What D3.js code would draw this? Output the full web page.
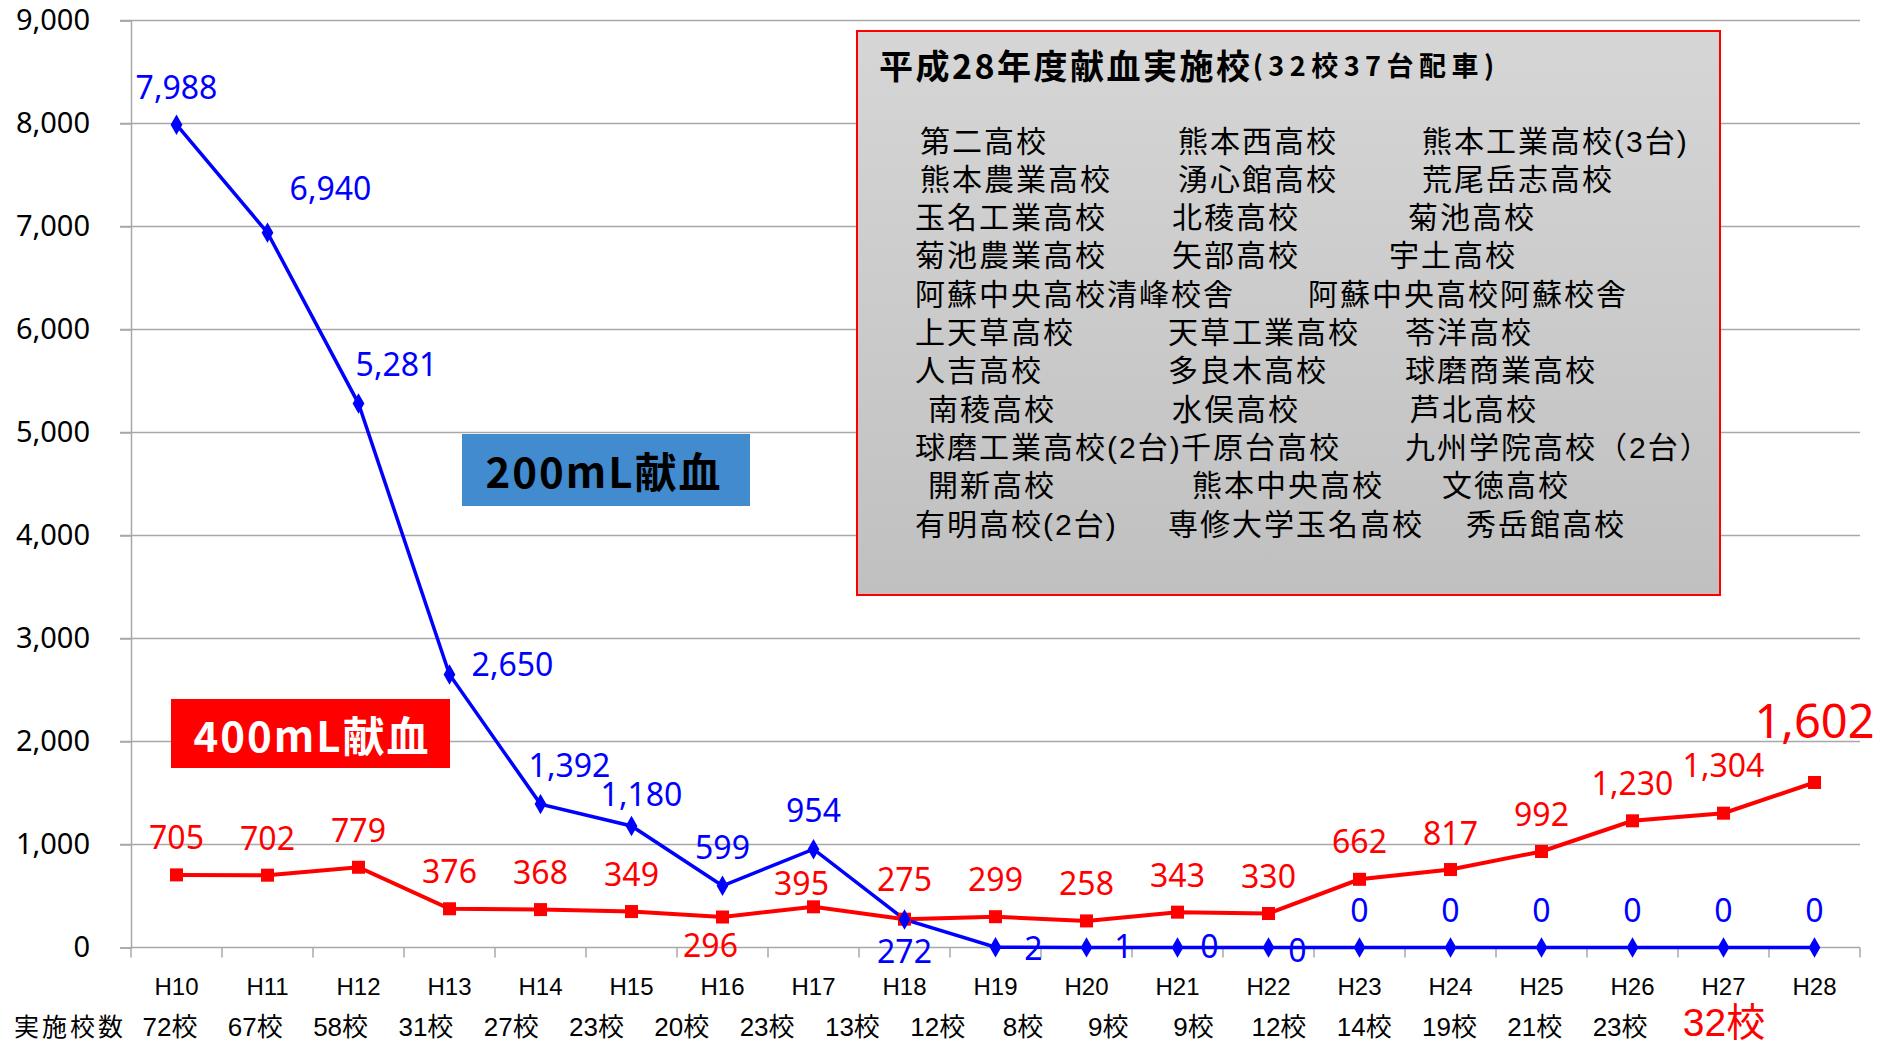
<!DOCTYPE html>
<html><head><meta charset="utf-8">
<script src="https://cdn.jsdelivr.net/npm/d3@7"></script>
<style>
html,body{margin:0;padding:0;background:#fff;}
svg{display:block;}
</style></head>
<body>
<svg id="chart" width="1890" height="1044"></svg>
<script>
// ---------- DATA ----------
const years = ["H10","H11","H12","H13","H14","H15","H16","H17","H18","H19","H20","H21","H22","H23","H24","H25","H26","H27","H28"];
const schoolCounts = ["72校","67校","58校","31校","27校","23校","20校","23校","13校","12校","8校","9校","9校","12校","14校","19校","21校","23校","32校"];
const donation200 = [7988,6940,5281,2650,1392,1180,599,954,272,2,1,0,0,0,0,0,0,0,0];
const donation400 = [705,702,779,376,368,349,296,395,275,299,258,343,330,662,757,932,1230,1304,1602];
const labels200 = ["7,988","6,940","5,281","2,650","1,392","1,180","599","954","272","2","1","0","0","0","0","0","0","0","0"];
const labels400 = ["705","702","779","376","368","349","296","395","275","299","258","343","330","662","817","992","1,230","1,304","1,602"];
const yTicks = [0,1000,2000,3000,4000,5000,6000,7000,8000,9000];
const boxTitle = "平成28年度献血実施校";
const boxTitleSub = "(32校37台配車)";
const schoolRows = [
  ["第二高校","熊本西高校","熊本工業高校(3台)"],
  ["熊本農業高校","湧心館高校","荒尾岳志高校"],
  ["玉名工業高校","北稜高校","菊池高校"],
  ["菊池農業高校","矢部高校","宇土高校"],
  ["阿蘇中央高校清峰校舎","阿蘇中央高校阿蘇校舎"],
  ["上天草高校","天草工業高校","苓洋高校"],
  ["人吉高校","多良木高校","球磨商業高校"],
  ["南稜高校","水俣高校","芦北高校"],
  ["球磨工業高校(2台)","千原台高校","九州学院高校（2台）"],
  ["開新高校","熊本中央高校","文徳高校"],
  ["有明高校(2台)","専修大学玉名高校","秀岳館高校"]
];
const rowLabel = "実施校数";
const series200Name = "200mL献血";
const series400Name = "400mL献血";

// ---------- LAYOUT ----------
const svg = d3.select("#chart");
const pL = 131, pR = 1860, pT = 20.5, pB = 947.5;
const x = d3.scaleBand().domain(years).range([pL, pR]).padding(0);
const y = d3.scaleLinear().domain([0, 9000]).range([pB, pT]);
const cx = d => x(d) + x.bandwidth() / 2;
const gridColor = "#a8a8a8";
const latin = "'Noto Sans', 'DejaVu Sans', sans-serif";
const cjk = "'Noto Sans CJK JP', 'Noto Sans', sans-serif";
const narrow = "'Liberation Sans', Arial, 'Noto Sans CJK JP', sans-serif";

// gridlines
svg.append("g").selectAll("line").data(yTicks.filter(t => t > 0)).join("line")
  .attr("x1", pL - 11).attr("x2", pR)
  .attr("y1", d => y(d)).attr("y2", d => y(d))
  .attr("stroke", gridColor).attr("stroke-width", 1.5);

// y axis
const yAxis = d3.axisLeft(y).tickValues(yTicks).tickSize(11).tickFormat(d3.format(","));
const yg = svg.append("g").attr("transform", `translate(${pL},0)`).call(yAxis);
yg.select(".domain").attr("stroke", gridColor).attr("stroke-width", 1.5);
yg.selectAll(".tick line").attr("stroke", gridColor).attr("stroke-width", 1.5);
yg.selectAll(".tick text").attr("x", -41).attr("font-family", latin).attr("font-size", 29).attr("fill", "#000");

// x axis (baseline + ticks at band boundaries)
svg.append("line").attr("x1", pL).attr("x2", pR).attr("y1", pB).attr("y2", pB)
  .attr("stroke", gridColor).attr("stroke-width", 1.5);
svg.append("g").selectAll("line").data(years.concat(["end"])).join("line")
  .attr("x1", (d, i) => i < years.length ? x(d) : pR)
  .attr("x2", (d, i) => i < years.length ? x(d) : pR)
  .attr("y1", pB).attr("y2", pB + 10)
  .attr("stroke", gridColor).attr("stroke-width", 1.5);
svg.append("g").selectAll("text").data(years).join("text")
  .attr("x", d => cx(d)).attr("y", 986).attr("dominant-baseline", "central")
  .attr("text-anchor", "middle").attr("font-family", narrow).attr("font-size", 24).attr("fill", "#000")
  .text(d => d);

// school count row
svg.append("text").attr("x", 14).attr("y", 1025).attr("dominant-baseline", "central")
  .attr("font-family", cjk).attr("font-size", 25).attr("letter-spacing", 3).attr("fill", "#000").text(rowLabel);
const countX = d3.scaleLinear().domain([0, 17]).range([170, 170 + 17 * 85.3]);
const lastI = schoolCounts.length - 1;
svg.append("g").selectAll("text").data(schoolCounts).join("text")
  .attr("x", (d, i) => i === lastI ? 1724 : countX(i))
  .attr("y", (d, i) => i === lastI ? 1022 : 1027)
  .attr("dominant-baseline", "central").attr("text-anchor", "middle")
  .attr("font-family", narrow)
  .attr("font-size", (d, i) => i === lastI ? 39 : 26)
  .attr("fill", (d, i) => i === lastI ? "#ff0000" : "#000")
  .text(d => d);

// ---------- school list box ----------
const box = svg.append("g");
const grad = svg.append("defs").append("linearGradient").attr("id", "boxg")
  .attr("x1", 0).attr("y1", 0).attr("x2", 0).attr("y2", 1);
grad.append("stop").attr("offset", "0%").attr("stop-color", "#d6d6d6");
grad.append("stop").attr("offset", "100%").attr("stop-color", "#c0c0c0");
box.append("rect").attr("x", 857).attr("y", 31).attr("width", 863).attr("height", 564)
  .attr("fill", "url(#boxg)").attr("stroke", "#ff0000").attr("stroke-width", 2);
const title = box.append("text").attr("x", 879).attr("y", 64).attr("dominant-baseline", "central")
  .attr("font-family", cjk).attr("font-weight", "bold").attr("fill", "#000");
title.append("tspan").attr("font-size", 34).attr("letter-spacing", 2.5).text(boxTitle);
title.append("tspan").attr("font-size", 27).attr("letter-spacing", 5.5).text(boxTitleSub);

const colX = [
  [920,1178,1422],[920,1178,1422],[915,1172,1408],[915,1172,1389],[915,1308],
  [915,1168,1405],[915,1168,1405],[928,1172,1410],[915,1181,1405],[928,1192,1442],[915,1168,1466]
];
const rowY = d3.scaleLinear().domain([0, 10]).range([141, 524]);
schoolRows.forEach((row, r) => {
  box.append("g").selectAll("text").data(row).join("text")
    .attr("x", (d, c) => colX[r][c]).attr("y", rowY(r)).attr("dominant-baseline", "central")
    .attr("font-family", "'Liberation Sans', 'Noto Sans CJK JP', sans-serif")
    .attr("font-size", 30).attr("letter-spacing", 2).attr("fill", "#000").text(d => d);
});

// ---------- series name boxes ----------
svg.append("rect").attr("x", 462).attr("y", 434).attr("width", 288).attr("height", 72).attr("fill", "#428bce");
svg.append("text").attr("x", 604).attr("y", 469).attr("text-anchor", "middle").attr("dominant-baseline", "central")
  .attr("font-family", cjk).attr("font-weight", "bold").attr("font-size", 42).attr("letter-spacing", 2)
  .attr("fill", "#000").text(series200Name);
svg.append("rect").attr("x", 171).attr("y", 699).attr("width", 279).attr("height", 69).attr("fill", "#ff0000");
svg.append("text").attr("x", 312).attr("y", 733).attr("text-anchor", "middle").attr("dominant-baseline", "central")
  .attr("font-family", cjk).attr("font-weight", "bold").attr("font-size", 42).attr("letter-spacing", 2)
  .attr("fill", "#fff").text(series400Name);

// ---------- lines ----------
const line = vals => d3.line().x((d, i) => cx(years[i])).y(d => y(d))(vals);
svg.append("path").attr("d", line(donation400)).attr("fill", "none").attr("stroke", "#ff0000").attr("stroke-width", 4);
svg.append("path").attr("d", line(donation200)).attr("fill", "none").attr("stroke", "#0000ff").attr("stroke-width", 3.5);

svg.append("g").selectAll("rect").data(donation400).join("rect")
  .attr("x", (d, i) => cx(years[i]) - 6.5).attr("y", d => y(d) - 6.5).attr("width", 13).attr("height", 13)
  .attr("fill", "#ff0000");
svg.append("g").selectAll("path").data(donation200).join("path")
  .attr("d", () => d3.symbol().type(d3.symbolDiamond).size(120)())
  .attr("transform", (d, i) => `translate(${cx(years[i])},${y(d)})`)
  .attr("fill", "#0000ff");

// ---------- data labels ----------
const off200 = [[0,-38],[63,-45],[38,-40],[63,-11],[29,-40],[10,-32],[0,-39],[0,-40],[0,31],[38,0],[37,-2],[32,-2],[29,2],
  [0,-38],[0,-38],[0,-38],[0,-38],[0,-38],[0,-38]];
const off400 = [[0,-38],[0,-38],[0,-38],[0,-38],[0,-38],[0,-38],[-12,27],[-12,-24],[0,-41],[0,-38],[0,-38],[0,-38],[0,-38],
  [0,-39],[0,-37],[0,-38],[0,-38],[0,-49],[0,-62]];
svg.append("g").selectAll("text").data(labels200).join("text")
  .attr("x", (d, i) => cx(years[i]) + off200[i][0]).attr("y", (d, i) => y(donation200[i]) + off200[i][1])
  .attr("text-anchor", "middle").attr("dominant-baseline", "central")
  .attr("font-family", latin).attr("font-size", 32).attr("fill", "#0000ff").text(d => d);
svg.append("g").selectAll("text").data(labels400).join("text")
  .attr("x", (d, i) => cx(years[i]) + off400[i][0]).attr("y", (d, i) => y(donation400[i]) + off400[i][1])
  .attr("text-anchor", "middle").attr("dominant-baseline", "central")
  .attr("font-family", latin).attr("font-size", (d, i) => i === labels400.length - 1 ? 47 : 32)
  .attr("fill", "#ff0000").text(d => d);
</script>
</body></html>
